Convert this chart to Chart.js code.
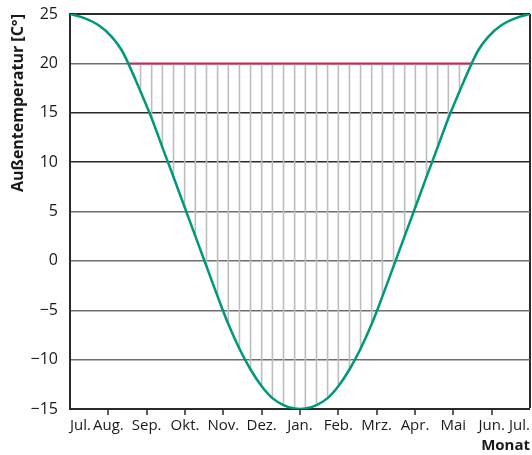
<!DOCTYPE html>
<html>
<head>
<meta charset="utf-8">
<script src="https://cdn.jsdelivr.net/npm/chart.js@4"></script>
<style>
  html, body { margin: 0; padding: 0; background: #fff; }
  #wrap { width: 532px; height: 455px; }
</style>
</head>
<body>
<div id="wrap"><canvas id="tempChart"></canvas></div>
<script>
// x = months after July, y = outdoor temperature in °C
const monthLabels = ['Jul.', 'Aug.', 'Sep.', 'Okt.', 'Nov.', 'Dez.', 'Jan.', 'Feb.', 'Mrz.', 'Apr.', 'Mai', 'Jun.', 'Jul.'];
const yTickValues = [-15, -10, -5, 0, 5, 10, 15, 20, 25];

// curve points outside the hatch lines
const edgeMonths = [0, 0.39, 0.74, 1.09, 1.35, 1.52, 6, 10.48, 10.65, 10.91, 11.26, 11.61, 12];
const edgeTemps  = [25, 24.56, 23.88, 22.69, 21.33, 20, -15, 20, 21.33, 22.69, 23.88, 24.56, 25];

// hatch lines (curve value at each line)
const hatchMonths = [1.84, 2.13, 2.41, 2.70, 2.99, 3.27, 3.56, 3.85, 4.13, 4.42, 4.71, 5.00, 5.28, 5.57, 5.86,
                     6.14, 6.43, 6.72, 7.00, 7.29, 7.58, 7.87, 8.15, 8.44, 8.73, 9.01, 9.30, 9.59, 9.87, 10.16];
const hatchTemps  = [17.15, 14.45, 11.5, 8.5, 5.45, 2.5, -0.55, -3.6, -6.4, -8.9, -11.0, -12.7, -13.9, -14.6, -14.95,
                     -14.95, -14.6, -13.9, -12.7, -11.0, -8.9, -6.4, -3.6, -0.55, 2.5, 5.45, 8.5, 11.5, 14.45, 17.15];

// heating limit
const limitTemp = 20;
const limitMonths = [1.52, 10.48];

const curvePoints = edgeMonths.map((m, i) => ({x: m, y: edgeTemps[i]}))
  .concat(hatchMonths.map((m, i) => ({x: m, y: hatchTemps[i]})))
  .sort((a, b) => a.x - b.x);

const hatchPoints = hatchMonths.flatMap((m, i) => [
  {x: m, y: hatchTemps[i]},
  {x: m, y: limitTemp},
  {x: m, y: null}
]);

const limitPoints = limitMonths.map(m => ({x: m, y: limitTemp}));

const fontFamily = '"Open Sans", "Noto Sans", sans-serif';
const darkLines = [25, 15, 10];

let ctx = document.getElementById('tempChart').getContext('2d');

let chart = new Chart(ctx, {
  type: 'line',
  data: {
    datasets: [
      {
        label: 'Außentemperatur',
        data: curvePoints,
        borderColor: '#00987b',
        borderWidth: 2.5,
        pointRadius: 0,
        cubicInterpolationMode: 'monotone',
        fill: false
      },
      {
        label: 'Heizgrenze',
        data: limitPoints,
        borderColor: '#d8244c',
        borderWidth: 2,
        pointRadius: 0,
        fill: false
      },
      {
        label: 'Heizgradtage',
        data: hatchPoints,
        borderColor: '#bdbdbd',
        borderWidth: 1.6,
        pointRadius: 0,
        spanGaps: false,
        fill: false
      }
    ]
  },
  options: {
    responsive: true,
    maintainAspectRatio: false,
    animation: false,
    layout: {
      padding: { top: 0, right: 1, left: 9, bottom: 0 }
    },
    plugins: {
      legend: { display: false },
      tooltip: { enabled: false }
    },
    scales: {
      x: {
        type: 'linear',
        min: 0,
        max: 12,
        ticks: {
          stepSize: 1,
          autoSkip: false,
          maxRotation: 0,
          align: 'inner',
          padding: 2,
          color: '#1a1a1a',
          font: { family: fontFamily, size: 15 },
          callback: function(value) {
            return monthLabels[value];
          }
        },
        grid: {
          drawOnChartArea: true,
          drawTicks: true,
          tickLength: 6,
          color: (c) => c.tick && c.tick.value === 12 ? '#2a2a2a' : 'rgba(0,0,0,0)',
          lineWidth: (c) => c.tick && c.tick.value === 12 ? 2 : 0,
          tickColor: (c) => (c.tick && (c.tick.value === 0 || c.tick.value === 12)) ? 'rgba(0,0,0,0)' : '#2a2a2a',
          tickWidth: 1.5
        },
        border: { color: '#2a2a2a', width: 2 },
        title: {
          display: true,
          text: 'Monat',
          align: 'end',
          color: '#1a1a1a',
          font: { family: fontFamily, size: 15, weight: 'bold' },
          padding: { top: 0, bottom: 0 }
        }
      },
      y: {
        min: -15,
        max: 25,
        afterBuildTicks: function(scale) {
          scale.ticks = yTickValues.map(v => ({value: v}));
        },
        afterFit: function(scale) {
          scale.width = 61;
          scale.paddingTop = 14;
        },
        ticks: {
          padding: 12,
          color: '#1a1a1a',
          font: { family: fontFamily, size: 16 },
          callback: function(value) {
            return String(value).replace('-', '\u2212');
          }
        },
        grid: {
          drawTicks: false,
          color: (c) => darkLines.includes(c.tick.value) ? '#2a2a2a' : '#6e6e6e',
          lineWidth: (c) => c.tick.value === 25 ? 2 : 1.4
        },
        border: { color: '#2a2a2a', width: 2 },
        title: {
          display: true,
          text: 'Außentemperatur [C°]',
          align: 'end',
          color: '#1a1a1a',
          font: { family: fontFamily, size: 16, weight: 'bold' },
          padding: { top: 0, bottom: 1 }
        }
      }
    }
  }
});
</script>
</body>
</html>
